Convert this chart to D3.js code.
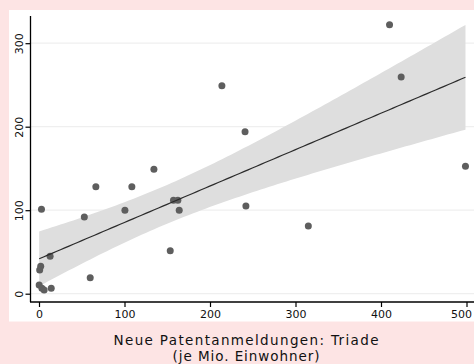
<!DOCTYPE html>
<html>
<head>
<meta charset="utf-8">
<script src="https://cdn.jsdelivr.net/npm/d3@7"></script>
<style>
  html, body { margin: 0; padding: 0; background: #fde4e4; }
  svg { display: block; }
  text { font-family: "DejaVu Sans", sans-serif; fill: #111; }
</style>
</head>
<body>
<svg id="chart" width="474" height="364"></svg>
<script>
// Patent applications (Triad, per million inhabitants) vs. outcome
const patents = [2.9, 53, 66.5, 108.6, 100.5, 134.4, 13, 2, 0.8, 59.9, 0.2, 3.4, 6, 14.3,
                 213.9, 241, 157.3, 162.4, 164, 242, 153.5, 315, 410, 423.6, 498.8];
const outcome = [101, 92, 128, 128, 100, 149, 45, 33, 28.4, 19, 10.4, 6.5, 4.4, 6.5,
                 249, 194, 112, 112, 100, 105, 51.5, 81, 322, 259.5, 152.6];
const xTicks = [0, 100, 200, 300, 400, 500];
const yTicks = [0, 100, 200, 300];
const xTitle = ["Neue Patentanmeldungen: Triade", "(je Mio. Einwohner)"];
const tCrit = 2.069; // 95% two-sided, 23 degrees of freedom

const svg = d3.select("#chart");
const tickFont = "Liberation Sans, Arial, sans-serif";

// white plot region
svg.append("rect").attr("x", 9).attr("y", 10).attr("width", 465).attr("height", 311.5)
  .attr("fill", "#ffffff");

const x = d3.scaleLinear().domain([0, 500]).range([39, 466.5]);
const y = d3.scaleLinear().domain([0, 300]).range([293.7, 43.2]);

// least-squares fit with confidence band for the mean
const n = patents.length;
const mx = d3.mean(patents), my = d3.mean(outcome);
let sxx = 0, sxy = 0;
for (let i = 0; i < n; i++) {
  sxx += (patents[i] - mx) ** 2;
  sxy += (patents[i] - mx) * (outcome[i] - my);
}
const b = sxy / sxx, a = my - b * mx;
let sse = 0;
for (let i = 0; i < n; i++) sse += (outcome[i] - a - b * patents[i]) ** 2;
const s = Math.sqrt(sse / (n - 2));
const [xmin, xmax] = d3.extent(patents);
const grid = d3.range(0, 101).map(k => xmin + (xmax - xmin) * k / 100);
const fit = grid.map(v => {
  const yhat = a + b * v;
  const half = tCrit * s * Math.sqrt(1 / n + (v - mx) ** 2 / sxx);
  return { v, yhat, lo: yhat - half, hi: yhat + half };
});

// horizontal grid lines
svg.append("g").selectAll("line").data(yTicks).join("line")
  .attr("x1", 31).attr("x2", 474)
  .attr("y1", d => y(d)).attr("y2", d => y(d))
  .attr("stroke", "#efefef").attr("stroke-width", 1.2);

// confidence band
svg.append("path").datum(fit)
  .attr("d", d3.area().x(d => x(d.v)).y0(d => y(d.lo)).y1(d => y(d.hi)))
  .attr("fill", "#dedede");

// scatter points
svg.append("g").selectAll("circle").data(patents).join("circle")
  .attr("cx", (d) => x(d))
  .attr("cy", (d, i) => y(outcome[i]))
  .attr("r", 3.5)
  .attr("fill", "#5e5e5e");

// fitted line
svg.append("path").datum(fit)
  .attr("d", d3.line().x(d => x(d.v)).y(d => y(d.yhat)))
  .attr("fill", "none").attr("stroke", "#2b2b2b").attr("stroke-width", 1.2);

// y axis
const yAxis = d3.axisLeft(y).tickValues(yTicks).tickSize(5).tickPadding(5).tickSizeOuter(0);
const gy = svg.append("g").attr("transform", "translate(30.5,0)").call(yAxis);
gy.select(".domain").attr("d", "M0,16V302").attr("stroke", "#000").attr("stroke-width", 1.3);
gy.selectAll(".tick line").attr("stroke", "#000").attr("stroke-width", 1.2);
gy.selectAll(".tick text")
  .attr("x", null).attr("dy", null)
  .attr("text-anchor", "middle")
  .attr("transform", "translate(-12,0) rotate(-90) translate(0,4)")
  .attr("font-size", 11).attr("font-family", tickFont).attr("fill", "#222");

// x axis
const xAxis = d3.axisBottom(x).tickValues(xTicks).tickSize(5).tickPadding(3).tickSizeOuter(0);
const gx = svg.append("g").attr("transform", "translate(0,302)").call(xAxis);
gx.select(".domain").attr("d", "M30,0H474").attr("stroke", "#000").attr("stroke-width", 1.3);
gx.selectAll(".tick line").attr("stroke", "#000").attr("stroke-width", 1.2);
gx.selectAll(".tick text").attr("font-size", 11).attr("font-family", tickFont).attr("fill", "#222");
// keep the last label inside the frame
gx.selectAll(".tick text").filter(d => d === xTicks[xTicks.length - 1])
  .attr("text-anchor", "end").attr("x", 5);

// axis title
const titleWidths = [265, 147];
svg.append("g").selectAll("text").data(xTitle).join("text")
  .attr("x", 246).attr("y", (d, i) => 345 + i * 15.5)
  .attr("text-anchor", "middle").attr("font-size", 13.5)
  .attr("textLength", (d, i) => titleWidths[i]).attr("lengthAdjust", "spacing")
  .attr("fill", "#333")
  .text(d => d);
</script>
</body>
</html>
